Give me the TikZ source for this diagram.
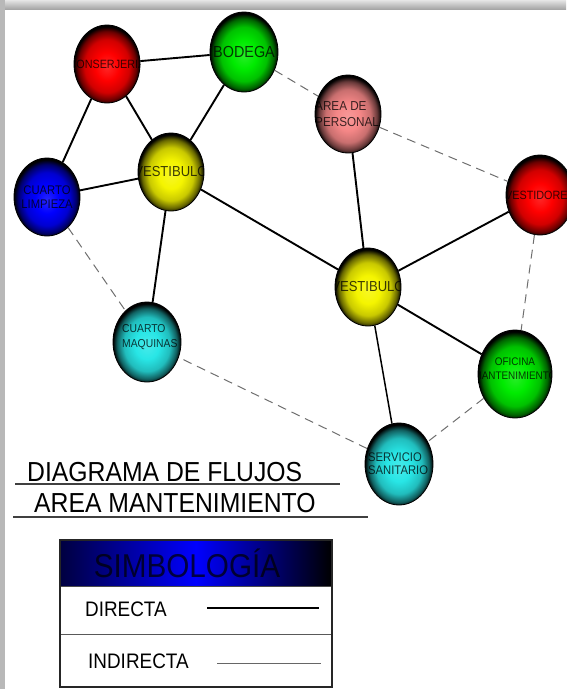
\documentclass[tikz,border=0pt]{standalone}
\usepackage{fontspec}
\setmainfont{Liberation Sans}
\newfontfamily\nar[FakeStretch=0.9]{Liberation Sans}
\usetikzlibrary{shapes.geometric}
\colorlet{sphc}{red}
\pgfdeclareradialshading[sphc]{sphere}{\pgfpoint{0bp}{-2bp}}{color(0bp)=(sphc!85!white); color(9bp)=(sphc); color(17bp)=(sphc!82!black); color(22bp)=(sphc!42!black); color(25bp)=(black); color(50bp)=(black)}
\definecolor{cRed}{RGB}{255,0,0}
\definecolor{cGreen}{RGB}{0,235,0}
\definecolor{cYellow}{RGB}{245,245,0}
\definecolor{cBlue}{RGB}{0,0,255}
\definecolor{cPink}{RGB}{245,135,135}
\definecolor{cCyan}{RGB}{40,230,230}
\definecolor{dashgray}{RGB}{110,110,110}
\tikzset{
  sphcol/.code={\colorlet{sphc}{#1}},
  sph/.style={ellipse, inner sep=0pt, draw=black, line width=0.8pt, shading=sphere},
  lbl/.style={inner sep=0pt, text=black, text opacity=0.75, align=center},
  direct/.style={draw=black, line width=1.9pt},
  indirect/.style={draw=dashgray, line width=1pt, dash pattern=on 9pt off 6pt},
  uline/.style={draw=black!75, line width=1.3pt},
  title/.style={inner sep=0pt, font=\nar\fontsize{27.5}{30}\selectfont},
  legtext/.style={inner sep=0pt, font=\nar\fontsize{21}{24}\selectfont},
}
\newcommand\mysph[8]{%
  \node[sph, sphcol=#6, minimum width=#4*2pt, minimum height=#5*2pt] (#1) at (#2,#3) {};
  \begin{scope}
    \clip (#2,#3) ellipse [x radius=#4pt, y radius=#5pt];
    \node[lbl, #7] (#1-t) at (#2,#3) {#8};
  \end{scope}
}
\begin{document}
\begin{tikzpicture}[x=1pt, y=-1pt]
\useasboundingbox (0,0) rectangle (566,689);
% frame
\shade[top color=black!10, bottom color=black!35] (0,0) rectangle (566,9);
\fill[black!28] (0,0) rectangle (5,689);

% spheres
\mysph{cons}{107}{64}{33}{39}{cRed}{font=\nar\fontsize{12}{14}\selectfont}{CONSERJERIA}
\mysph{bod}{244}{52}{34}{40}{cGreen}{font=\nar\fontsize{16}{18}\selectfont}{BODEGA}
\mysph{v1}{171}{172}{33}{39}{cYellow}{font=\nar\fontsize{14.5}{16}\selectfont}{VESTIBULO}
\mysph{limp}{47}{197}{33}{39}{cBlue}{font=\nar\fontsize{12.5}{14}\selectfont}{CUARTO\\LIMPIEZA}
\mysph{areap}{348}{114}{33}{39}{cPink}{font=\nar\fontsize{13}{16}\selectfont, align=left, anchor=west, xshift=-33pt}{AREA DE\\PERSONAL}
\mysph{vestid}{540}{195}{34}{40}{cRed}{font=\nar\fontsize{12}{14}\selectfont}{VESTIDORES}
\mysph{v2}{368}{287}{33}{39}{cYellow}{font=\nar\fontsize{14.5}{16}\selectfont}{VESTIBULO}
\mysph{ofic}{515}{374}{37}{44}{cGreen}{font=\nar\fontsize{11}{14}\selectfont, yshift=5pt}{OFICINA\\MANTENIMIENTO}
\mysph{serv}{399}{464}{34}{41}{cCyan}{font=\nar\fontsize{12.5}{13}\selectfont, align=left, anchor=west, xshift=-31pt}{SERVICIO\\SANITARIO}
\mysph{maq}{147}{342}{34}{40}{cCyan}{font=\nar\fontsize{11.5}{15}\selectfont, align=left, anchor=west, xshift=-25pt, yshift=5pt}{CUARTO\\MAQUINAS}

% direct connections
\draw[direct] (cons) -- (bod);
\draw[direct] (cons) -- (limp);
\draw[direct] (cons) -- (v1);
\draw[direct] (bod) -- (v1);
\draw[direct] (limp) -- (v1);
\draw[direct] (v1) -- (maq);
\draw[direct] (v1) -- (v2);
\draw[direct] (areap) -- (v2);
\draw[direct] (vestid) -- (v2);
\draw[direct] (v2) -- (ofic);
\draw[direct, line width=1.5pt] (v2) -- (serv);

% indirect connections
\draw[indirect] (bod) -- (areap);
\draw[indirect] (areap) -- (vestid);
\draw[indirect] (vestid) -- (ofic);
\draw[indirect] (ofic) -- (serv);
\draw[indirect] (serv) -- (maq);
\draw[indirect] (limp) -- (maq);

% title
\node[title, anchor=base west] (t1) at (27,481) {DIAGRAMA DE FLUJOS};
\draw[uline] (15,484) -- (340,484);
\node[title, anchor=base west] (t2) at (34,512) {AREA MANTENIMIENTO};
\draw[uline] (13,517) -- (368,517);

% legend
\shade[left color=blue!25!black, right color=black, middle color=blue] (60,540) rectangle (332,586);
\node[inner sep=0pt, anchor=base, text=black, text opacity=0.72, font=\nar\fontsize{33}{36}\selectfont] (simb) at (187,577) {SIMBOLOGÍA};
\draw[black!70, line width=1pt] (60,586) -- (332,586);
\draw[black!65, line width=1pt] (60,634) -- (332,634);
\draw[black!85, line width=1.5pt] (60,540) rectangle (332,687);
\node[legtext, anchor=base west] (ldir) at (85,616) {DIRECTA};
\draw[black, line width=1.8pt] (207,608) -- (319,608);
\node[legtext, anchor=base west] (lind) at (88,668) {INDIRECTA};
\draw[black!60, line width=0.8pt] (217,663) -- (321,663);
\end{tikzpicture}
\end{document}
